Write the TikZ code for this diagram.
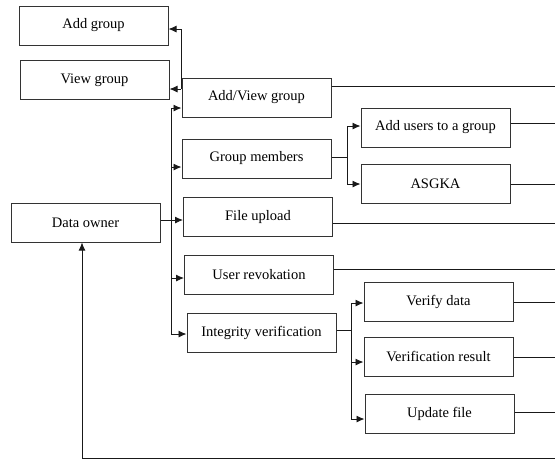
\documentclass[tikz,border=0pt]{standalone}
\usepackage{fontspec}
\setmainfont{Liberation Serif}
\usetikzlibrary{arrows.meta}
\begin{document}
\begin{tikzpicture}[x=1pt,y=-1pt,
  box/.style={draw=black!80,line width=1pt,minimum width=149pt,minimum height=39pt,inner sep=0pt,font=\fontsize{14.5}{16}\selectfont},
  conn/.style={draw=black!90,line width=0.9pt},
  arr/.style={conn,-{Latex[length=8pt,width=7pt]}}]
\useasboundingbox (0,0) rectangle (555,459);
% boxes
\node[box] (addg) at (93.5,25.5) {Add group};
\node[box] (viewg) at (94.5,80) {View group};
\node[box] (addview) at (256.5,97.5) {Add/View group};
\node[box] (gmem) at (256.5,158.5) {Group members};
\node[box] (addusers) at (435.5,127.5) {Add users to a group};
\node[box] (asgka) at (435.5,184) {ASGKA};
\node[box] (fileup) at (258,217) {File upload};
\node[box] (owner) at (85.5,222.5) {Data owner};
\node[box] (revok) at (259,274.5) {User revokation};
\node[box] (integ) at (261.5,333) {Integrity verification};
\node[box] (verify) at (438.5,301.5) {Verify data};
\node[box] (vresult) at (438.5,356.5) {Verification result};
\node[box] (update) at (439.5,413.5) {Update file};
% main spine
\coordinate (sm) at (171,220);
\coordinate (stop) at (171,108);
\coordinate (s2) at (171,167);
\coordinate (s4) at (171,278);
\coordinate (sbot) at (171,334);
\draw[conn] (owner.east |- sm) -- (sm);
\draw[conn] (stop) -- (sbot);
\draw[arr] (sm) -- (fileup.west |- sm);
\draw[arr] (stop) -- (addview.west |- stop);
\draw[arr] (s2) -- (gmem.west |- s2);
\draw[arr] (s4) -- (revok.west |- s4);
\draw[arr] (sbot) -- (integ.west |- sbot);
% upper branch
\coordinate (ub) at (181,89);
\coordinate (ut) at (181,29);
\draw[arr] (ub) -- (viewg.east |- ub);
\draw[arr] (ub) -- (ut) -- (addg.east |- ut);
% group members branch
\coordinate (gm) at (347,157);
\coordinate (gt) at (347,126);
\coordinate (gb) at (347,184);
\draw[conn] (gmem.east |- gm) -- (gm);
\draw[conn] (gt) -- (gb);
\draw[arr] (gt) -- (addusers.west |- gt);
\draw[arr] (gb) -- (asgka.west |- gb);
% integrity branch
\coordinate (im) at (351,330);
\coordinate (it) at (351,303);
\coordinate (imid) at (351,362);
\coordinate (ib) at (351,419);
\draw[conn] (integ.east |- im) -- (im);
\draw[conn] (it) -- (ib);
\draw[arr] (it) -- (verify.west |- it);
\draw[arr] (imid) -- (vresult.west |- imid);
\draw[arr] (ib) -- (update.west |- ib);
% lines to right edge
\coordinate (r1) at (555,86);
\coordinate (r2) at (555,123);
\coordinate (r3) at (555,184);
\coordinate (r4) at (555,223);
\coordinate (r5) at (555,269);
\coordinate (r6) at (555,302);
\coordinate (r7) at (555,357);
\coordinate (r8) at (555,412);
\draw[conn] (addview.east |- r1) -- (r1);
\draw[conn] (addusers.east |- r2) -- (r2);
\draw[conn] (asgka.east |- r3) -- (r3);
\draw[conn] (fileup.east |- r4) -- (r4);
\draw[conn] (revok.east |- r5) -- (r5);
\draw[conn] (verify.east |- r6) -- (r6);
\draw[conn] (vresult.east |- r7) -- (r7);
\draw[conn] (update.east |- r8) -- (r8);
% bottom return
\coordinate (br) at (555,458);
\coordinate (bl) at (82,458);
\draw[arr] (br) -- (bl) -- (owner.south -| bl);
\end{tikzpicture}
\end{document}
